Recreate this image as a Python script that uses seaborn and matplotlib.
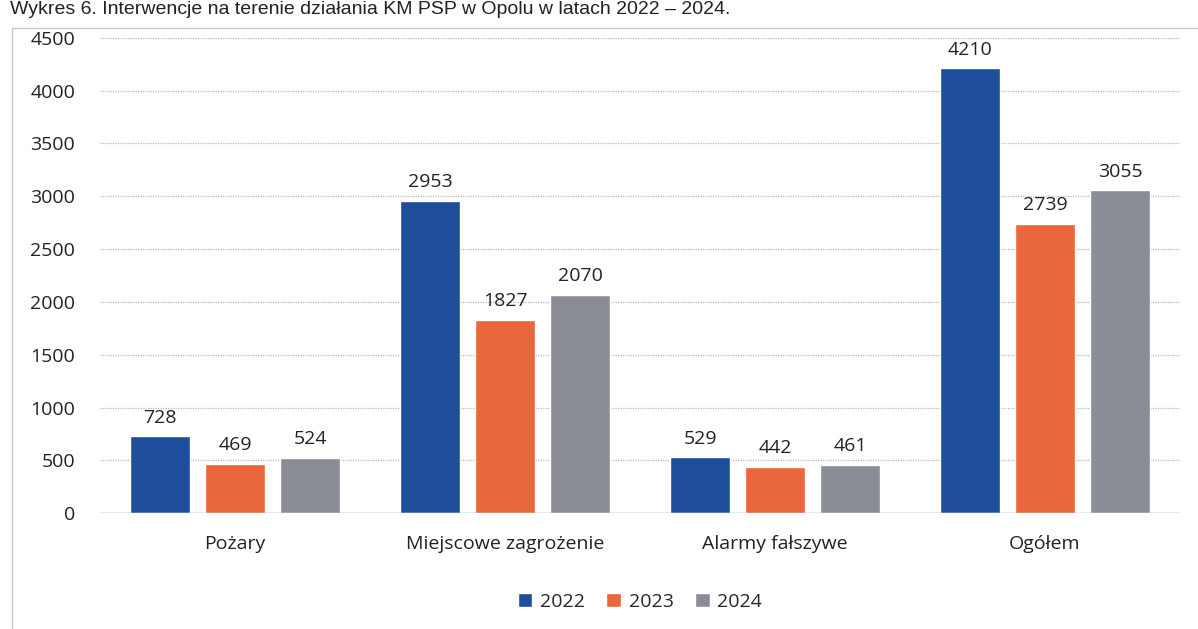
import pandas as pd
import matplotlib.pyplot as plt
import seaborn as sns
from matplotlib.patches import Rectangle

categories = ['Pożary', 'Miejscowe zagrożenie', 'Alarmy fałszywe', 'Ogółem']
years = ['2022', '2023', '2024']
v2022 = [728, 2953, 529, 4210]
v2023 = [469, 1827, 442, 2739]
v2024 = [524, 2070, 461, 3055]
colors = ['#1f4e9c', '#e8673c', '#8a8d96']

df = pd.DataFrame({
    'kategoria': categories * 3,
    'rok': [y for y in years for _ in categories],
    'wartosc': v2022 + v2023 + v2024,
})

sns.set_style('white')
plt.rcParams['font.family'] = ['Open Sans', 'DejaVu Sans']

fig = plt.figure(figsize=(11.98, 6.29), dpi=100)
ax = fig.add_axes([0.0835, 0.184, 0.9015, 0.756])

# outer chart frame
fig.patches.append(Rectangle((0.010, -0.01), 1.2, 0.965, transform=fig.transFigure,
                             fill=False, edgecolor='#c8c8c8', linewidth=1.0))

sns.barplot(data=df, x='kategoria', y='wartosc', hue='rok', palette=colors,
            width=0.833, gap=0.2, ax=ax, saturation=1, legend=True)

for cont in ax.containers:
    ax.bar_label(cont, padding=7, fontsize=14, color='#222222')

ax.set_ylim(0, 4500)
ax.set_xlim(-0.5, 3.5)
ax.set_yticks(range(0, 4501, 500))
ax.yaxis.grid(True, color='#b8b8b8', linestyle=(0, (1, 1)), linewidth=0.9)
ax.set_axisbelow(True)
for s in ax.spines.values():
    s.set_visible(False)
ax.axhline(0, color='#a0a0a0', linewidth=1)
ax.set_xlabel('')
ax.set_ylabel('')
ax.tick_params(axis='both', length=0, labelsize=14, colors='#222222')
ax.tick_params(axis='x', pad=16)
ax.tick_params(axis='y', pad=18)

ax.legend(loc='upper center', bbox_to_anchor=(0.5, -0.13), ncol=3, frameon=False,
          fontsize=14, handlelength=0.75, handleheight=0.75, handletextpad=0.4,
          columnspacing=1.1)

fig.text(0.008, 0.998, 'Wykres 6. Interwencje na terenie działania KM PSP w Opolu w latach 2022 – 2024.',
         fontsize=14, family=['Liberation Sans', 'DejaVu Sans'], va='top', ha='left', color='#222222')

fig.savefig('out.png', dpi=100)
